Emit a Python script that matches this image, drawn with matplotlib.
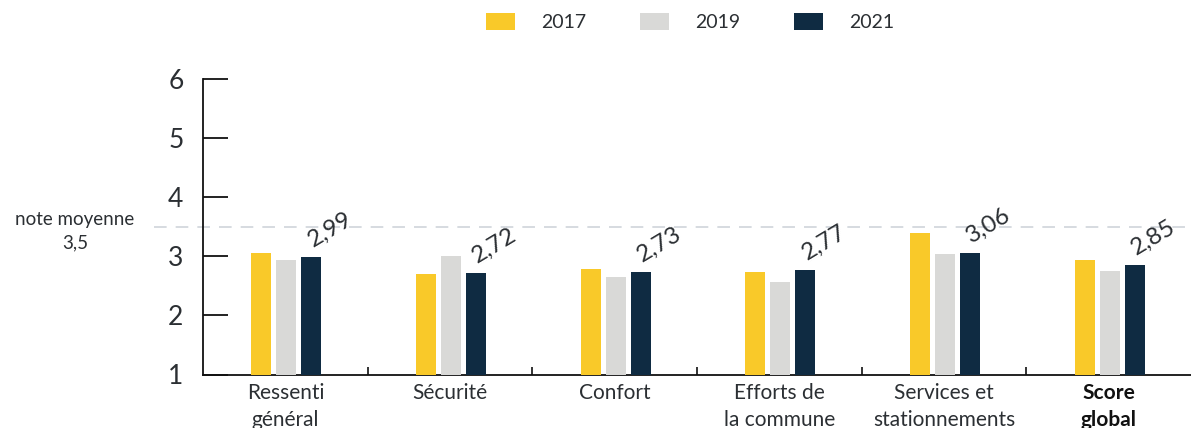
import matplotlib
matplotlib.use("Agg")
import matplotlib.pyplot as plt
from matplotlib.patches import Patch
import numpy as np

plt.rcParams['font.family'] = ['Lato', 'DejaVu Sans']

categories = ["Ressenti\ngénéral", "Sécurité", "Confort", "Efforts de\nla commune",
              "Services et\nstationnements", "Score\nglobal"]
years = ["2017", "2019", "2021"]
v2017 = [3.06, 2.70, 2.78, 2.73, 3.39, 2.93]
v2019 = [2.94, 3.00, 2.65, 2.56, 3.04, 2.75]
v2021 = [2.99, 2.72, 2.73, 2.77, 3.06, 2.85]
labels2021 = ["2,99", "2,72", "2,73", "2,77", "3,06", "2,85"]
mean_value = 3.5
mean_label = "note moyenne\n3,5"

colors = ["#F9C929", "#D9D9D7", "#0F2B42"]
text_color = "#2b2f33"

fig = plt.figure(figsize=(11.91, 4.28), dpi=100)
ax = fig.add_axes([203/1191, 1 - 374.5/428, 1 - 203/1191, (374.5 - 79)/428])

x = np.arange(len(categories))
w = 0.121
off = 0.1515
series = [v2017, v2019, v2021]
for k, vals in enumerate(series):
    ax.bar(x + (k - 1) * off + 0.006, np.array(vals) - 1, bottom=1, width=w,
           color=colors[k], zorder=3)

for i, (v, lab) in enumerate(zip(v2021, labels2021)):
    ax.annotate(lab, (x[i] + off, v), xytext=(2, 7), textcoords='offset points',
                rotation=31, rotation_mode='anchor', ha='left', va='baseline',
                fontsize=17.5, color=text_color, zorder=5)

ax.set_xlim(-0.5, 5.5)
ax.set_ylim(1, 6)

# mean line
ax.axhline(mean_value, xmin=-0.05, xmax=1, color="#D3D8DD", lw=1.3,
           dashes=(7, 5), zorder=1, clip_on=False)
fig.text(75/1191, 1 - 231/428, mean_label,
         ha='center', va='center', fontsize=13.5, color=text_color, linespacing=1.45)

for s in ['top', 'right']:
    ax.spines[s].set_visible(False)
ax.spines['left'].set_linewidth(1.3)
ax.spines['bottom'].set_linewidth(1.3)
ax.spines['left'].set_color('#111111')
ax.spines['bottom'].set_color('#111111')

ax.set_yticks([1, 2, 3, 4, 5, 6])
ax.tick_params(axis='y', direction='in', length=18, width=1.3, color='#111111',
               labelsize=19, labelcolor=text_color, pad=14)

ax.set_xticks(x)
ax.set_xticklabels(categories)
ax.tick_params(axis='x', length=0, labelsize=15, labelcolor=text_color, pad=6)
for t in ax.get_xticklabels():
    t.set_linespacing(1.45)
    t.set_va('top')
ax.get_xticklabels()[-1].set_fontweight('bold')
ax.get_xticklabels()[-1].set_color('#111111')

ax.set_xticks(np.arange(0.5, 5.5, 1), minor=True)
ax.tick_params(axis='x', which='minor', direction='in', length=6, width=1.2,
               color='#111111')

handles = [Patch(facecolor=c, edgecolor='none') for c in colors]
fig.legend(handles, years, loc='center', bbox_to_anchor=(690/1191, 1 - 22/428),
           ncol=3, frameon=False, fontsize=14, handlelength=1.5, handleheight=1.0,
           handletextpad=1.3, columnspacing=2.8, labelcolor=text_color)

fig.savefig("out.png", dpi=100)
